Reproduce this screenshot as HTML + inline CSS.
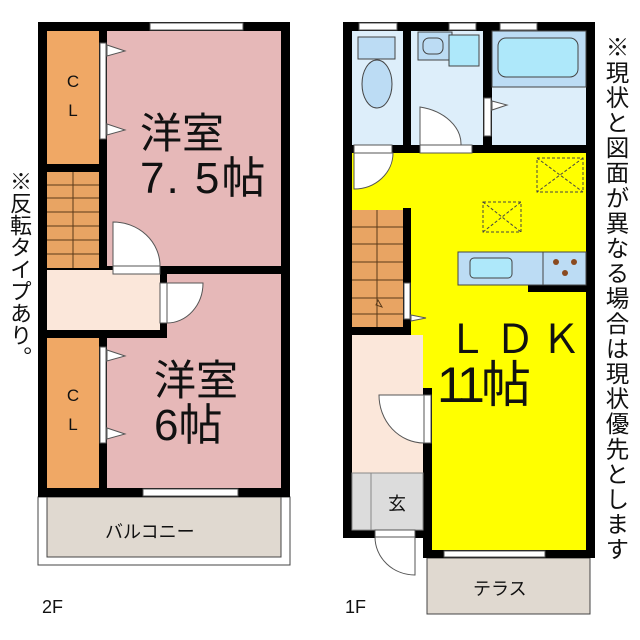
<!DOCTYPE html>
<html><head><meta charset="utf-8"><style>
body{margin:0;background:#fff;width:640px;height:640px;overflow:hidden;position:relative;font-family:"Liberation Sans","Noto Sans CJK JP",sans-serif}
svg{position:absolute;left:0;top:0}
.v{position:absolute;writing-mode:vertical-rl;color:#111;line-height:1}
</style></head><body>
<svg width="640" height="640" viewBox="0 0 640 640" font-family="Liberation Sans, Noto Sans CJK JP, sans-serif">
<!-- 2F -->
<rect x="38" y="497" width="252" height="68" fill="#fff" stroke="#444" stroke-width="1"/>
<rect x="47" y="497" width="234" height="60" fill="#e0d9d0" stroke="#444" stroke-width="1"/>
<rect x="38" y="22" width="252" height="475" fill="#000"/>
<rect x="47" y="31" width="52" height="133" fill="#f0a865"/>
<rect x="107" y="31" width="174" height="235" fill="#e6b8b8"/>
<rect x="47" y="172" width="52" height="96" fill="#e8a463"/>
<g stroke="#5a3a1a" stroke-width="1">
<line x1="47" y1="185" x2="99" y2="185"/><line x1="47" y1="198" x2="99" y2="198"/><line x1="47" y1="212" x2="99" y2="212"/><line x1="47" y1="226" x2="99" y2="226"/><line x1="47" y1="240" x2="99" y2="240"/><line x1="47" y1="254" x2="99" y2="254"/><line x1="73" y1="172" x2="73" y2="268"/>
</g>
<rect x="47" y="270" width="113" height="60" fill="#fbe7da"/>
<rect x="167" y="274" width="114" height="214" fill="#e6b8b8"/>
<rect x="107" y="338" width="60" height="150" fill="#e6b8b8"/>
<rect x="47" y="338" width="52" height="150" fill="#f0a865"/>
<!-- windows 2F -->
<rect x="150" y="23" width="93" height="7" fill="#fff" stroke="#555"/>
<rect x="143" y="489" width="95" height="7" fill="#fff" stroke="#555"/>
<!-- closet doors -->
<rect x="100" y="43" width="6" height="96" fill="#fff" stroke="#555"/>
<polygon points="107,45 125,51 107,56" fill="#fff" stroke="#555"/><polygon points="107,124 125,130 107,135" fill="#fff" stroke="#555"/>
<rect x="100" y="347" width="6" height="96" fill="#fff" stroke="#555"/>
<polygon points="107,350 125,356 107,361" fill="#fff" stroke="#555"/><polygon points="107,428 125,434 107,439" fill="#fff" stroke="#555"/>
<!-- doors 2F -->
<rect x="113" y="266" width="47" height="8" fill="#fff" stroke="#555"/>
<path d="M113,266 L113,222 A47,44 0 0 1 160,266 Z" fill="#fff" stroke="#555"/>
<rect x="160" y="283" width="7" height="40" fill="#fff" stroke="#555"/>
<path d="M167,283 L203,283 A36,40 0 0 1 167,323 Z" fill="#fff" stroke="#555"/>
<!-- 1F -->
<rect x="427" y="558" width="163" height="56" fill="#e0d9d0" stroke="#444"/>
<path d="M343,22 H595 V558 H423 V538 H343 Z" fill="#000"/>
<rect x="352" y="31" width="51" height="114" fill="#ddeefa"/>
<rect x="411" y="31" width="72" height="114" fill="#ddeefa"/>
<rect x="492" y="31" width="94" height="114" fill="#ddeefa"/>
<rect x="358" y="37" width="37" height="22" fill="#bcdcf4" stroke="#444"/>
<ellipse cx="377" cy="84" rx="15" ry="24" fill="#bcdcf4" stroke="#444"/>
<rect x="418" y="32" width="34" height="28" fill="#bcdcf4" stroke="#444"/>
<rect x="423" y="38" width="20" height="16" rx="6" fill="#bcdcf4" stroke="#444"/>
<rect x="449" y="35" width="30" height="31" fill="#aee8fa" stroke="#444"/>
<rect x="492" y="31" width="94" height="56" fill="#bcdcf4" stroke="#444"/>
<rect x="498" y="38" width="80" height="39" rx="8" fill="#aee8fa" stroke="#444"/>
<path d="M352,153 H586 V550 H432 V388 H411 V210 H352 Z" fill="#ffff00"/>
<rect x="352" y="210" width="51" height="117" fill="#e8a463"/>
<g stroke="#5a3a1a" stroke-width="1">
<line x1="352" y1="227" x2="403" y2="227"/><line x1="352" y1="244" x2="403" y2="244"/><line x1="352" y1="262" x2="403" y2="262"/><line x1="352" y1="280" x2="403" y2="280"/><line x1="352" y1="298" x2="403" y2="298"/><line x1="352" y1="314" x2="403" y2="314"/><line x1="377" y1="210" x2="377" y2="327"/>
</g>
<rect x="403" y="208" width="8" height="180" fill="#000"/>
<rect x="343" y="327" width="68" height="8" fill="#000"/>
<rect x="352" y="335" width="71" height="138" fill="#fbe7da"/>
<rect x="352" y="473" width="71" height="57" fill="#dcdcdc" stroke="#888"/>
<line x1="371" y1="473" x2="371" y2="530" stroke="#888"/>
<rect x="528" y="285" width="58" height="7" fill="#000"/>
<rect x="458" y="252" width="128" height="33" fill="#bcdcf4" stroke="#444"/>
<line x1="543" y1="252" x2="543" y2="285" stroke="#444"/>
<rect x="470" y="258" width="42" height="20" rx="4" fill="#aee8fa" stroke="#444"/>
<circle cx="556" cy="262" r="3" fill="#8a4a20"/><circle cx="574" cy="262" r="3" fill="#8a4a20"/><circle cx="565" cy="273" r="3" fill="#8a4a20"/>
<g fill="none" stroke="#444" stroke-dasharray="3,2">
<rect x="537" y="158" width="46" height="34"/><path d="M537,158 L583,192 M583,158 L537,192"/>
<rect x="483" y="202" width="38" height="30"/><path d="M483,202 L521,232 M483,232 L521,202"/>
</g>
<!-- windows 1F -->
<rect x="359" y="23" width="38" height="7" fill="#fff" stroke="#555"/>
<rect x="449" y="23" width="27" height="7" fill="#fff" stroke="#555"/>
<rect x="500" y="23" width="37" height="7" fill="#fff" stroke="#555"/>
<rect x="444" y="551" width="101" height="6" fill="#fff" stroke="#555"/>
<!-- doors 1F -->
<rect x="484" y="98" width="7" height="38" fill="#fff" stroke="#555"/>
<polygon points="492,101 507,105 492,110" fill="#fff" stroke="#555"/>
<rect x="420" y="145" width="52" height="8" fill="#fff" stroke="#555"/>
<path d="M420,145 L420,107 A52,38 0 0 1 461,145 Z" fill="#fff" stroke="#555"/>
<rect x="354" y="145" width="38" height="8" fill="#fff" stroke="#555"/>
<path d="M354,153 L393,153 A39,36 0 0 1 354,189 Z" fill="#fff" stroke="#555"/>
<rect x="404" y="283" width="6" height="36" fill="#fff" stroke="#555"/>
<polygon points="411,315 426,318 411,321" fill="#fff" stroke="#555"/>
<polygon points="378,300 376,305 382,307" fill="none" stroke="#5a3a1a"/>
<rect x="424" y="395" width="7" height="48" fill="#fff" stroke="#555"/>
<path d="M424,395 L379,395 A45,48 0 0 0 424,443 Z" fill="#fff" stroke="#555"/>
<rect x="375" y="530" width="40" height="7" fill="#fff" stroke="#555"/>
<path d="M375,537 L415,537 L415,575 A40,38 0 0 1 375,537 Z" fill="#fff" stroke="#555"/>
<!-- labels -->
<g fill="#111">
<text x="73" y="87" font-size="17" text-anchor="middle">C</text>
<text x="73" y="116" font-size="17" text-anchor="middle">L</text>
<text x="73" y="401" font-size="17" text-anchor="middle">C</text>
<text x="73" y="430" font-size="17" text-anchor="middle">L</text>
<text x="140" y="148" font-size="42">洋室</text>
<text x="140" y="193" font-size="44" letter-spacing="2">7. 5帖</text>
<text x="154" y="395" font-size="42">洋室</text>
<text x="154" y="440" font-size="44">6帖</text>
<text x="105" y="538" font-size="18">バルコニー</text>
<text x="42" y="613" font-size="18">2F</text>
<text x="447" y="353" font-size="40">Ｌ</text>
<text x="495" y="353" font-size="40">Ｄ</text>
<text x="541" y="353" font-size="40">Ｋ</text>
<text x="437" y="402" font-size="50">1</text>
<text x="457" y="402" font-size="50">1</text>
<text x="481" y="402" font-size="50">帖</text>
<text x="388" y="510" font-size="18">玄</text>
<text x="473" y="595" font-size="18">テラス</text>
<text x="345" y="613" font-size="18">1F</text>
</g>
</svg>
<div class="v" style="left:8px;top:170px;font-size:22px">※反転タイプあり。</div>
<div class="v" style="left:603px;top:35px;font-size:23.5px;letter-spacing:1.6px">※現状と図面が異なる場合は現状優先とします</div>
</body></html>
